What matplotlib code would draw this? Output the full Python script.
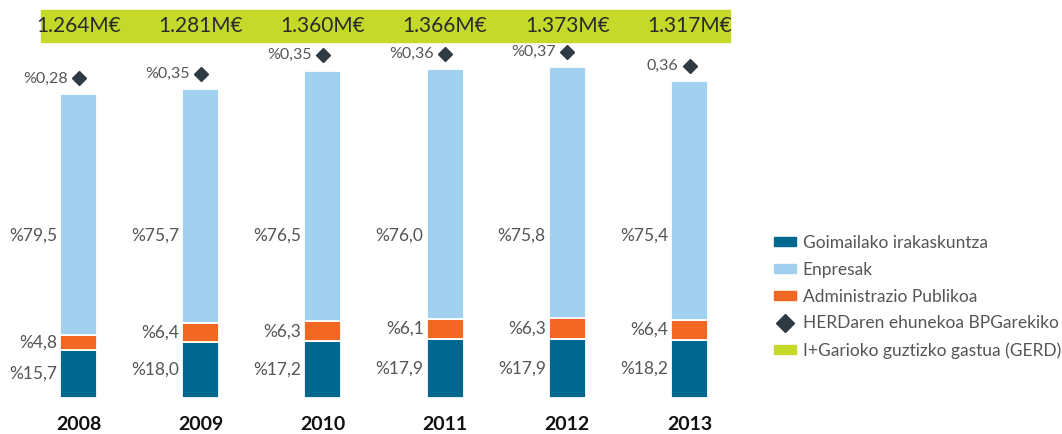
import matplotlib
matplotlib.use('Agg')
import matplotlib.pyplot as plt
import matplotlib.transforms as mtransforms
from matplotlib.patches import Rectangle, Patch
from matplotlib.lines import Line2D
import numpy as np

# datuak
years = ['2008', '2009', '2010', '2011', '2012', '2013']
gerd = [1264, 1281, 1360, 1366, 1373, 1317]
gerd_labels = ['1.264M€', '1.281M€', '1.360M€', '1.366M€', '1.373M€', '1.317M€']
goi = [15.7, 18.0, 17.2, 17.9, 17.9, 18.2]
adm = [4.8, 6.4, 6.3, 6.1, 6.3, 6.4]
enp = [79.5, 75.7, 76.5, 76.0, 75.8, 75.4]
herd_labels = ['%0,28', '%0,35', '%0,35', '%0,36', '%0,37', '0,36']

c_goi = '#00678f'
c_enp = '#a1d1ef'
c_adm = '#f26822'
c_herd = '#2e3a44'
c_gerd = '#c5d92b'
txt = '#555555'

plt.rcParams['font.family'] = ['Lato', 'DejaVu Sans']

W, H = 1062, 434
fig = plt.figure(figsize=(W / 100, H / 100), dpi=100)

# pixel -> data: bar 0 at 78.5px, step 122.2px, 0.2405 px per M€
step = 122.2
x0 = -78.5 / step
x1 = (760 - 78.5) / step
bottom_px = 397.7
top_px = 36.9
ax = fig.add_axes([0, (H - bottom_px) / H, 760 / W, (bottom_px - top_px) / H])
ax.set_xlim(x0, x1)
ax.set_ylim(0, (bottom_px - top_px) / 0.2405)
ax.axis('off')

x = np.arange(len(years))
gerd = np.array(gerd, dtype=float)
v_goi = gerd * np.array(goi) / 100
v_adm = gerd * np.array(adm) / 100
v_enp = gerd * np.array(enp) / 100

bw = 37 / step
kw = dict(width=bw, edgecolor='white', linewidth=1.3)
ax.bar(x, v_goi, color=c_goi, **kw)
ax.bar(x, v_adm, bottom=v_goi, color=c_adm, **kw)
ax.bar(x, v_enp, bottom=v_goi + v_adm, color=c_enp, **kw)

fmt = lambda v: '%' + f'{v:.1f}'.replace('.', ',')
for i in range(len(years)):
    lx = x[i] - bw / 2 - 3 / step
    ax.text(lx, v_goi[i] / 2, fmt(goi[i]), ha='right', va='center',
            fontsize=12.5, color=txt)
    ax.text(lx, v_goi[i] + v_adm[i] / 2, fmt(adm[i]), ha='right', va='center',
            fontsize=12.5, color=txt)
    ax.text(lx, 675, fmt(enp[i]), ha='right', va='center',
            fontsize=12.5, color=txt)
    # HERD diamond + label
    top = v_goi[i] + v_adm[i] + v_enp[i]
    ax.plot([x[i]], [top], marker='D', markersize=7, color=c_herd, linestyle='none',
            transform=ax.transData + mtransforms.ScaledTranslation(0, 11 / 72, fig.dpi_scale_trans),
            clip_on=False)
    ax.annotate(herd_labels[i], xy=(x[i], top), xytext=(-8, 11), textcoords='offset points',
                ha='right', va='center', fontsize=11.5, color=txt)

# GERD band
fig.patches.append(Rectangle((41 / W, (H - 42) / H), (730 - 41) / W, 32 / H,
                             transform=fig.transFigure, color=c_gerd, zorder=-1))
bt = mtransforms.blended_transform_factory(ax.transData, fig.transFigure)
for i in range(len(years)):
    fig.text(bt.transform((x[i], 0))[0] / fig.bbox.width, (H - 26) / H, gerd_labels[i],
             ha='center', va='center', fontsize=15, color='#2a2a2a', zorder=5)
    ax.text(x[i], (H - 425) / H, years[i], transform=bt, ha='center', va='center',
            fontsize=14, color='#111111', fontweight='bold', clip_on=False)

handles = [Patch(color=c_goi), Patch(color=c_enp), Patch(color=c_adm),
           Line2D([], [], marker='D', color=c_herd, linestyle='none', markersize=9),
           Patch(color=c_gerd)]
labels = ['Goimailako irakaskuntza', 'Enpresak', 'Administrazio Publikoa',
          'HERDaren ehunekoa BPGarekiko', 'I+Garioko guztizko gastua (GERD)']
leg = fig.legend(handles, labels, loc='upper left', bbox_to_anchor=(774 / W, (H - 235) / H),
                 frameon=False, fontsize=12.5, handlelength=1.25, handleheight=0.45,
                 handletextpad=0.4, labelspacing=0.62, borderaxespad=0, borderpad=0)
for t in leg.get_texts():
    t.set_color(txt)

fig.savefig('out.png', dpi=100)
